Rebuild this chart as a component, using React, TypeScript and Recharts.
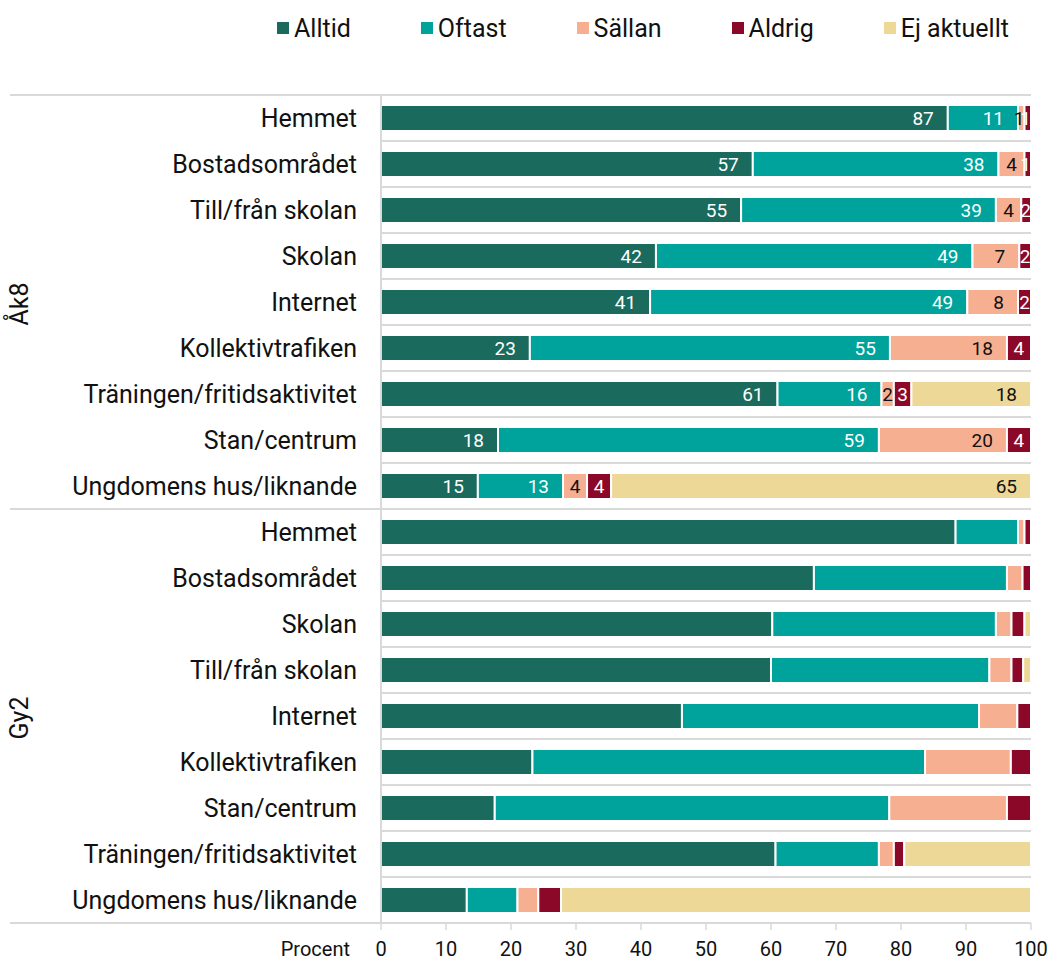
import React from 'react';
import { BarChart, Bar, XAxis, YAxis, Legend, LabelList } from 'recharts';

// categories
const groups = ['Åk8', 'Gy2'];
const placesAk8 = [
  'Hemmet', 'Bostadsområdet', 'Till/från skolan', 'Skolan', 'Internet',
  'Kollektivtrafiken', 'Träningen/fritidsaktivitet', 'Stan/centrum', 'Ungdomens hus/liknande',
];
const placesGy2 = [
  'Hemmet', 'Bostadsområdet', 'Skolan', 'Till/från skolan', 'Internet',
  'Kollektivtrafiken', 'Stan/centrum', 'Träningen/fritidsaktivitet', 'Ungdomens hus/liknande',
];

// series values (procent)
const alltidAk8 = [87.2, 57.2, 55.4, 42.3, 41.4, 22.9, 61.0, 18.0, 14.9];
const oftastAk8 = [10.8, 37.8, 39.2, 48.7, 48.8, 55.4, 16.0, 58.6, 13.1];
const sallanAk8 = [1.0, 4.0, 3.9, 7.2, 7.8, 18.0, 1.9, 19.7, 3.7];
const aldrigAk8 = [1.0, 1.0, 1.5, 1.8, 2.0, 3.7, 2.7, 3.7, 3.7];
const ejAk8 = [0, 0, 0, 0, 0, 0, 18.4, 0, 64.6];

const alltidGy2 = [88.4, 66.6, 60.2, 60.0, 46.3, 23.3, 17.5, 60.7, 13.2];
const oftastGy2 = [9.6, 29.7, 34.4, 33.6, 45.7, 60.4, 60.7, 15.9, 7.8];
const sallanGy2 = [1.0, 2.4, 2.4, 3.4, 5.9, 13.2, 18.1, 2.3, 3.2];
const aldrigGy2 = [1.0, 1.3, 2.0, 1.8, 2.1, 3.1, 3.7, 1.6, 3.5];
const ejGy2 = [0, 0, 1.0, 1.2, 0, 0, 0, 19.5, 72.3];

const xTicks = [0, 10, 20, 30, 40, 50, 60, 70, 80, 90, 100];

const series = [
  { key: 'alltid', name: 'Alltid', color: '#1b6a5e', text: '#ffffff' },
  { key: 'oftast', name: 'Oftast', color: '#00a39b', text: '#ffffff' },
  { key: 'sallan', name: 'Sällan', color: '#f7af91', text: '#111111' },
  { key: 'aldrig', name: 'Aldrig', color: '#8c0829', text: '#ffffff' },
  { key: 'ej', name: 'Ej aktuellt', color: '#eed898', text: '#111111' },
];

const W = 1053;
const H = 960;
const PLOT_LEFT = 381;
const PLOT_RIGHT = 1031;
const GRID = '#d9d9d9';
const FONT = 'Roboto, "Noto Sans", sans-serif';

const buildRows = (group: string, places: string[], cols: number[][], labelled: boolean) =>
  places.map((place, i) => {
    const row: any = { key: `${group}|${place}`, place, group };
    series.forEach((s, j) => {
      row[s.key] = cols[j][i];
      row[`${s.key}Label`] = labelled && cols[j][i] > 0 ? Math.round(cols[j][i]) : null;
    });
    return row;
  });

const data = [
  ...buildRows(groups[0], placesAk8, [alltidAk8, oftastAk8, sallanAk8, aldrigAk8, ejAk8], true),
  ...buildRows(groups[1], placesGy2, [alltidGy2, oftastGy2, sallanGy2, aldrigGy2, ejGy2], false),
];

const GROUP_SIZE = placesAk8.length;

const CategoryTick = (props: any) => {
  const { x, y, payload, index } = props;
  const rowH = (payload && payload.offset ? payload.offset * 2 : 46);
  const row = data[index];
  const idxInGroup = index % GROUP_SIZE;
  const top = y - rowH / 2;
  return (
    <g>
      <line
        x1={idxInGroup === 0 ? 10 : PLOT_LEFT}
        x2={PLOT_RIGHT}
        y1={top}
        y2={top}
        stroke={GRID}
        strokeWidth={2}
      />
      {index === data.length - 1 && (
        <line x1={10} x2={PLOT_RIGHT} y1={y + rowH / 2} y2={y + rowH / 2} stroke={GRID} strokeWidth={2} />
      )}
      <text x={x} y={y} textAnchor="end" dominantBaseline="central" fontSize={25} fill="#111" fontFamily={FONT}>
        {row ? row.place : payload.value}
      </text>
      {idxInGroup === Math.floor(GROUP_SIZE / 2) && row && (
        <text
          x={19}
          y={y + 2}
          textAnchor="middle"
          dominantBaseline="central"
          fontSize={25}
          fill="#111"
          fontFamily={FONT}
          transform={`rotate(-90, 19, ${y + 2})`}
        >
          {row.group}
        </text>
      )}
    </g>
  );
};

const PercentTick = (props: any) => {
  const { x, y, payload } = props;
  return (
    <g>
      {payload.value === 0 && (
        <text x={x - 31} y={y} dy="0.71em" textAnchor="end" fontSize={20} fill="#111" fontFamily={FONT}>
          Procent
        </text>
      )}
      <text x={x} y={y} dy="0.71em" textAnchor="middle" fontSize={20} fill="#111" fontFamily={FONT}>
        {payload.value}
      </text>
    </g>
  );
};

const makeLabel = (textColor: string) => (props: any) => {
  const vb = props.viewBox || props;
  const { x, y, width, height } = vb;
  const value = props.value;
  if (value === null || value === undefined) return null;
  const tw = String(value).length * 0.56 * 19;
  const pad = Math.max(0, Math.min(14, (width - tw) / 2));
  return (
    <text
      x={x + width - pad}
      y={y + height / 2}
      textAnchor="end"
      dominantBaseline="central"
      fontSize={19}
      fill={textColor}
      fontFamily={FONT}
    >
      {value}
    </text>
  );
};

const LegendContent = () => (
  <div
    style={{
      display: 'flex',
      alignItems: 'center',
      height: 40,
      paddingLeft: 277,
      gap: 70,
      fontFamily: FONT,
      fontSize: 25,
      color: '#111',
    }}
  >
    {series.map((s) => (
      <div key={s.key} style={{ display: 'flex', alignItems: 'center', gap: 5 }}>
        <span style={{ display: 'inline-block', width: 12, height: 12, background: s.color }} />
        <span>{s.name}</span>
      </div>
    ))}
  </div>
);

export default function App() {
  return (
    <div style={{ position: 'absolute', left: 0, top: 0, background: '#fff' }}>
      <BarChart
        width={W}
        height={H}
        data={data}
        layout="vertical"
        margin={{ top: 55, right: W - PLOT_RIGHT, bottom: 0, left: 0 }}
        barSize={26}
      >
        <Legend
          verticalAlign="top"
          align="left"
          content={<LegendContent />}
          wrapperStyle={{ top: 8, left: 0, width: W }}
        />
        <XAxis
          type="number"
          domain={[0, 100]}
          ticks={xTicks}
          allowDataOverflow
          height={37}
          axisLine={{ stroke: GRID, strokeWidth: 2 }}
          tickLine={{ stroke: GRID, strokeWidth: 1.5 }}
          tickSize={7}
          tickMargin={12}
          tick={<PercentTick />}
        />
        <YAxis
          type="category"
          dataKey="key"
          width={PLOT_LEFT}
          axisLine={{ stroke: GRID, strokeWidth: 2 }}
          tickLine={false}
          tickSize={0}
          tickMargin={24}
          interval={0}
          tick={<CategoryTick />}
        />
        {series.map((s) => (
          <Bar
            key={s.key}
            dataKey={s.key}
            name={s.name}
            stackId="a"
            fill={s.color}
            stroke="#ffffff"
            strokeWidth={2}
            isAnimationActive={false}
          >
            <LabelList dataKey={`${s.key}Label`} content={makeLabel(s.text)} />
          </Bar>
        ))}
      </BarChart>
    </div>
  );
}
